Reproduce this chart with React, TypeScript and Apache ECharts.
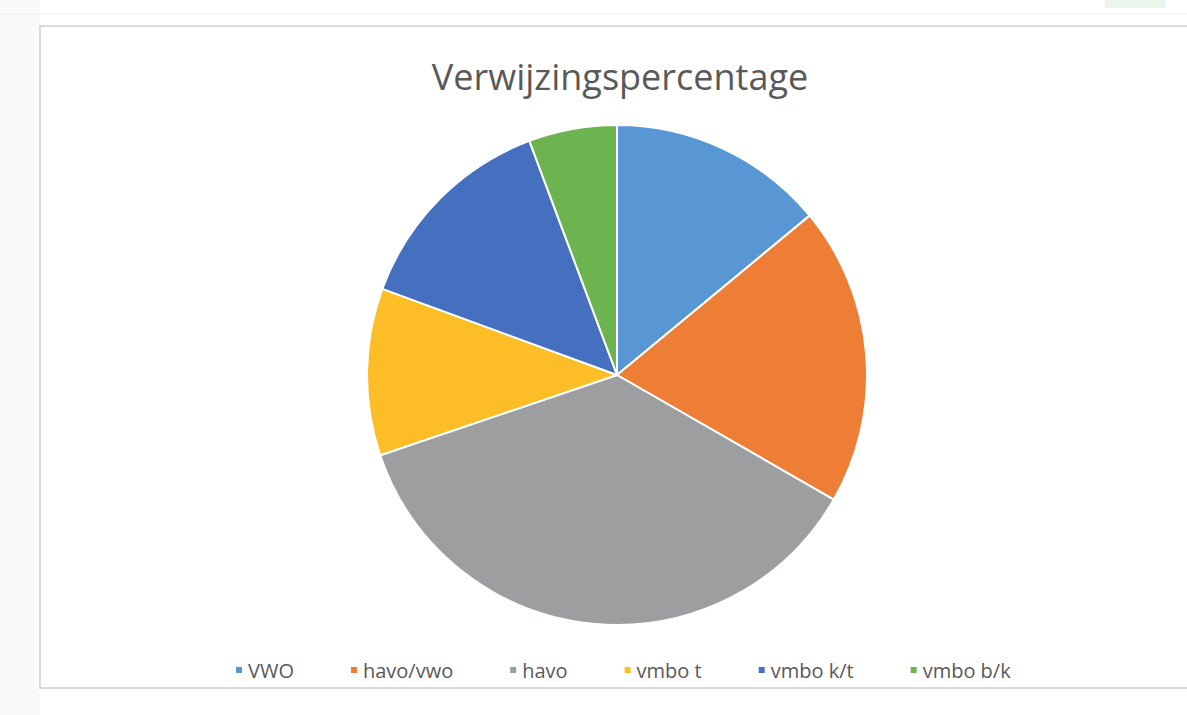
import React, { useEffect, useRef } from "react";
import * as echarts from "echarts";

const categories = ["VWO", "havo/vwo", "havo", "vmbo t", "vmbo k/t", "vmbo b/k"];
const values = [14, 19.3, 36.5, 10.8, 13.7, 5.7];
const colors = ["#5897d3", "#ee7d36", "#9d9ea0", "#fdbd26", "#4470bf", "#6bb44f"];
const titleText = "Verwijzingspercentage";

export default function App() {
  const ref = useRef<HTMLDivElement>(null);
  useEffect(() => {
    const chart = echarts.init(ref.current!, null, { renderer: "svg" });
    chart.setOption({
      animation: false,
      backgroundColor: "#ffffff",
      title: {
        text: titleText,
        left: 615,
        textAlign: "center",
        top: 53,
        textStyle: { fontFamily: "Open Sans", fontSize: 36, fontWeight: "normal", color: "#595959" },
      },
      legend: {
        data: categories,
        top: 655,
        left: 229,
        icon: "rect",
        itemWidth: 8,
        itemHeight: 8,
        itemGap: 55,
        textStyle: { fontFamily: "Open Sans", fontSize: 20, color: "#595959" },
      },
      graphic: [
        { type: "rect", shape: { x: 0, y: 0, width: 40, height: 715 }, style: { fill: "#fafafa" }, silent: true },
        { type: "rect", shape: { x: 1105, y: 0, width: 60, height: 8 }, style: { fill: "#eaf6ea" }, silent: true },
        { type: "line", shape: { x1: 0, y1: 14, x2: 1187, y2: 14 }, style: { stroke: "#f0f0f0", lineWidth: 1 }, silent: true },
        {
          type: "rect",
          shape: { x: 40, y: 26, width: 1160, height: 662 },
          style: { fill: "none", stroke: "#d4ceca", lineWidth: 1.5 },
          silent: true,
        },
      ],
      series: [
        {
          type: "pie",
          center: [617, 375],
          radius: 250,
          startAngle: 90,
          clockwise: true,
          label: { show: false },
          labelLine: { show: false },
          itemStyle: { borderColor: "#ffffff", borderWidth: 2 },
          data: categories.map((name, i) => ({ name, value: values[i], itemStyle: { color: colors[i] } })),
        },
      ],
    });
    return () => chart.dispose();
  }, []);
  return <div ref={ref} style={{ position: "fixed", left: 0, top: 0, width: 1187, height: 715 }} />;
}
